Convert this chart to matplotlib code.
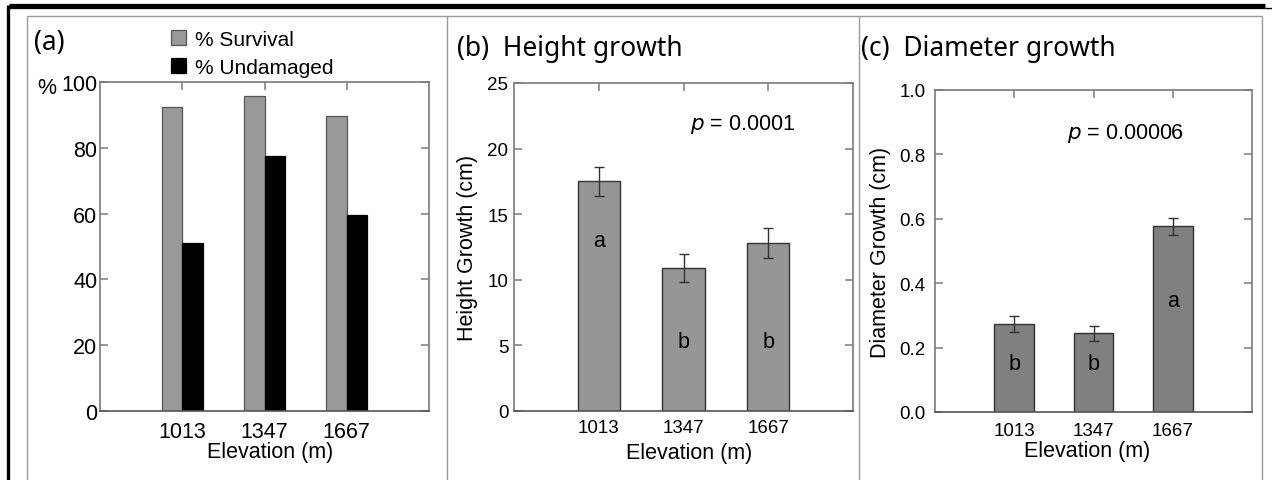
import matplotlib
matplotlib.use("Agg")
import matplotlib.pyplot as plt
from matplotlib.lines import Line2D

# ---------------- data ----------------
elevations = ["1013", "1347", "1667"]
survival = [92.3, 95.6, 89.8]
undamaged = [51.0, 77.4, 59.5]
height_growth = [17.5, 10.9, 12.8]
height_err = [1.1, 1.1, 1.15]
height_letters = ["a", "b", "b"]
diam_growth = [0.274, 0.244, 0.577]
diam_err = [0.025, 0.024, 0.027]
diam_letters = ["b", "b", "a"]
p_height = "0.0001"
p_diam = "0.00006"

W, H = 1272, 481
fig = plt.figure(figsize=(W / 100, H / 100), dpi=100)
fig.patch.set_facecolor("white")

SANS = ["Liberation Sans", "DejaVu Sans"]
TITLE = ["Noto Sans", "DejaVu Sans"]
SPINE = "#7a7a7a"


def px_axes(l, t, r, b):
    return fig.add_axes([l / W, 1 - b / H, (r - l) / W, (b - t) / H])


def style(ax, fs):
    for s in ax.spines.values():
        s.set_color(SPINE)
        s.set_linewidth(1.2)
    ax.spines["bottom"].set_color("#555555")
    ax.tick_params(direction="in", length=6, width=1.1, color=SPINE,
                   top=True, right=True, labelsize=fs)
    for lab in ax.get_xticklabels() + ax.get_yticklabels():
        lab.set_family(SANS)


def place_labels(ax, xl, yl=None):
    ax.xaxis.set_label_coords(*xl)
    ax.xaxis.label.set_va("center")
    if yl is not None:
        ax.yaxis.set_label_coords(*yl)
        ax.yaxis.label.set_va("center")


# figure decorations (frame lines)
def fline(x0, y0, x1, y1, color, lw):
    fig.add_artist(Line2D([x0 / W, x1 / W], [1 - y0 / H, 1 - y1 / H],
                          transform=fig.transFigure, color=color, lw=lw,
                          solid_capstyle="butt"))

fline(9, 6.5, 1265, 6.5, "black", 3.8)
fline(1265, 8.5, 1272, 8.5, "black", 1.0)
fline(7.5, 6, 7.5, 481, "black", 2.4)
fline(27, 17, 1262, 17, "#9a9a9a", 1.0)
for xv in [27, 447, 859, 1262]:
    fline(xv, 17, xv, 481, "#9a9a9a", 1.0)

pos = [1, 2, 3]

# ---------------- panel (a) ----------------
axa = px_axes(100, 83, 429, 412)
axa.bar([p - 0.125 for p in pos], survival, width=0.25, color="#999999",
        edgecolor="#555555", linewidth=0.9, label="% Survival", zorder=2)
axa.bar([p + 0.125 for p in pos], undamaged, width=0.25, color="black",
        edgecolor="black", linewidth=0.9, label="% Undamaged", zorder=2)
axa.set_xlim(0, 4)
axa.set_ylim(0, 100)
axa.set_yticks([0, 20, 40, 60, 80, 100])
axa.set_xticks(pos)
axa.set_xticklabels(elevations)
style(axa, 15.5)
axa.tick_params(axis="y", pad=2)
axa.tick_params(axis="x", pad=7)
axa.set_xlabel("Elevation (m)", fontsize=15.5, family=SANS)
place_labels(axa, (0.517, -0.1246))
fig.text(37 / W, 1 - 88 / H, "%", fontsize=15.5, family=SANS, va="center", ha="left")
fig.text(34 / W, 1 - 43 / H, "(a)", fontsize=19, family=TITLE, va="center", ha="left")
leg = axa.legend(loc="upper left", bbox_to_anchor=(171 / W, 1 - 31 / H),
                 bbox_transform=fig.transFigure, frameon=False,
                 prop={"family": SANS, "size": 15}, handlelength=0.7,
                 handleheight=0.7, handletextpad=0.45, labelspacing=0.42,
                 borderpad=0, borderaxespad=0)

# ---------------- panel (b) ----------------
axb = px_axes(514, 84, 853, 412)
axb.bar(pos, height_growth, width=0.5, color="#969696", edgecolor="#333333",
        linewidth=1.0, yerr=height_err, capsize=3.5,
        error_kw={"ecolor": "#333333", "elinewidth": 1.0, "capthick": 1.0}, zorder=2)
axb.set_xlim(0, 4)
axb.set_ylim(0, 25)
axb.set_yticks([0, 5, 10, 15, 20, 25])
axb.set_xticks(pos)
axb.set_xticklabels(elevations)
style(axb, 13.5)
axb.tick_params(axis="y", pad=4)
axb.tick_params(axis="x", pad=6)
axb.set_xlabel("Elevation (m)", fontsize=15.5, family=SANS)
axb.set_ylabel("Height Growth (cm)", fontsize=15.5, family=SANS)
place_labels(axb, (0.516, -0.125), (-0.136, 0.5))
for p, L in zip(pos, height_letters):
    axb.text(p, 13.0 if L == "a" else 5.3, L, fontsize=15.5, family=SANS,
             ha="center", va="center", zorder=3)
axb.text(0.52, 0.876, r"$\it{p}$ = " + p_height, transform=axb.transAxes,
         fontsize=15.5, family=SANS, ha="left", va="center")
fig.text(457 / W, 1 - 49 / H, "(b)  Height growth", fontsize=19, family=TITLE,
         va="center", ha="left")

# ---------------- panel (c) ----------------
axc = px_axes(935, 91, 1252, 413)
axc.bar(pos, diam_growth, width=0.5, color="#808080", edgecolor="#333333",
        linewidth=1.0, yerr=diam_err, capsize=3.5,
        error_kw={"ecolor": "#333333", "elinewidth": 1.0, "capthick": 1.0}, zorder=2)
axc.set_xlim(0, 4)
axc.set_ylim(0, 1.0)
axc.set_yticks([0.0, 0.2, 0.4, 0.6, 0.8, 1.0])
axc.set_yticklabels(["0.0", "0.2", "0.4", "0.6", "0.8", "1.0"])
axc.set_xticks(pos)
axc.set_xticklabels(elevations)
style(axc, 13.5)
axc.tick_params(axis="y", pad=7)
axc.tick_params(axis="x", pad=7)
axc.set_xlabel("Elevation (m)", fontsize=15.5, family=SANS)
axc.set_ylabel("Diameter Growth (cm)", fontsize=15.5, family=SANS)
place_labels(axc, (0.479, -0.120), (-0.173, 0.5))
for p, L in zip(pos, diam_letters):
    axc.text(p, 0.345 if L == "a" else 0.15, L, fontsize=15.5, family=SANS,
             ha="center", va="center", zorder=3)
axc.text(0.415, 0.868, r"$\it{p}$ = " + p_diam, transform=axc.transAxes,
         fontsize=15.5, family=SANS, ha="left", va="center")
fig.text(861 / W, 1 - 49 / H, "(c)  Diameter growth", fontsize=19, family=TITLE,
         va="center", ha="left")

fig.savefig("out.png", dpi=100, facecolor="white")
